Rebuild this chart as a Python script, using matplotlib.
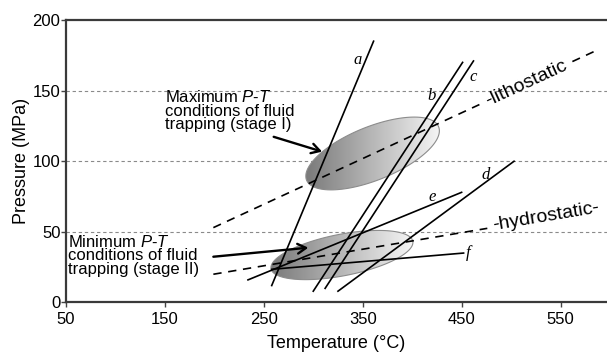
import matplotlib
matplotlib.use("Agg")
import matplotlib.pyplot as plt
import numpy as np
from matplotlib.patches import Polygon
from matplotlib.colors import LinearSegmentedColormap

plt.rcParams['font.family'] = ['Liberation Sans', 'DejaVu Sans']
plt.rcParams['mathtext.fontset'] = 'custom'
plt.rcParams['mathtext.rm'] = 'Liberation Sans'
plt.rcParams['mathtext.it'] = 'Liberation Sans:italic'

# isochores a-f : (T start, T end), (P start, P end)
iso_names = ['a', 'b', 'c', 'd', 'e', 'f']
iso_T = [(258, 361), (300, 451), (312, 462), (325, 503), (234, 450), (258, 452)]
iso_P = [(12, 185), (8, 170), (10, 171), (8, 100), (16, 78), (23.5, 35)]
iso_lab_T = [345, 420, 462, 474, 420, 457]
iso_lab_P = [172, 146, 160, 90, 75, 35]

# geotherms
litho_T = [199, 588]
litho_P = [53, 179]
hydro_T = [199, 476]
hydro_P = [20, 52.5]

# trapping fields (centre T, centre P, half-length, half-width in degC, angle)
ell_T = [360, 329]
ell_P = [105.5, 33.6]
ell_a = [72, 73]
ell_b = [27, 21]
ell_ang = [22, 11]

fig = plt.figure(figsize=(6.07, 3.56), dpi=100)
ax = fig.add_axes([0.1087, 0.1503, 0.8913, 0.7935])
xmin, xmax, ymin, ymax = 50, 597, 0, 200
ax.set_xlim(xmin, xmax)
ax.set_ylim(ymin, ymax)

# pixel aspect between P and T units
k = (0.7935 * 356 / (ymax - ymin)) / (0.8913 * 607 / (xmax - xmin))

for y in [50, 100, 150]:
    ax.axhline(y, color='#8a8a8a', lw=0.8, ls=(0, (3, 2.5)), zorder=1)

cmap = LinearSegmentedColormap.from_list('g', ['#7a7a7a', '#f5f5f5'])
t = np.linspace(0, 2 * np.pi, 200)
for Tc, Pc, a, b, ang in zip(ell_T, ell_P, ell_a, ell_b, ell_ang):
    th = np.radians(ang)
    dx = a * np.cos(t) * np.cos(th) - b * np.sin(t) * np.sin(th)
    dy = a * np.cos(t) * np.sin(th) + b * np.sin(t) * np.cos(th)
    xs = Tc + dx
    ys = Pc + dy / k
    poly = Polygon(np.column_stack([xs, ys]), closed=True, facecolor='none',
                   edgecolor='#8c8c8c', lw=0.8, zorder=3)
    ax.add_patch(poly)
    grad = np.linspace(0, 1, 256).reshape(1, -1)
    im = ax.imshow(grad, cmap=cmap, aspect='auto', zorder=2,
                   extent=[xs.min(), xs.max(), ys.min(), ys.max()])
    im.set_clip_path(poly)

for n, (T, P), lt, lp in zip(iso_names, zip(iso_T, iso_P), iso_lab_T, iso_lab_P):
    ax.plot(T, P, color='black', lw=1.2, zorder=4)
    ax.text(lt, lp, n, family='Liberation Serif', style='italic', fontsize=12,
            ha='center', va='center', zorder=5)

def disp_angle(T, P):
    p = ax.transData.transform(np.column_stack([T, P]))
    return np.degrees(np.arctan2(p[1, 1] - p[0, 1], p[1, 0] - p[0, 0]))

# lithostatic: dashed line interrupted by label
ls = (litho_P[1] - litho_P[0]) / (litho_T[1] - litho_T[0])
gap0, gap1 = 468, 562
ax.plot([litho_T[0], gap0], [litho_P[0], litho_P[0] + ls * (gap0 - litho_T[0])],
        color='black', lw=1.2, ls=(0, (5, 4)), zorder=4)
ax.plot([gap1, litho_T[1]], [litho_P[0] + ls * (gap1 - litho_T[0]), litho_P[1]],
        color='black', lw=1.2, ls=(0, (5, 4)), zorder=4)
tm = (gap0 + gap1) / 2
ax.text(tm, litho_P[0] + ls * (tm - litho_T[0]), '-lithostatic', fontsize=14,
        rotation=disp_angle(litho_T, litho_P), rotation_mode='anchor',
        ha='center', va='center', zorder=5)

ax.plot(hydro_T, hydro_P, color='black', lw=1.2, ls=(0, (5, 4)), zorder=4)
hs = (hydro_P[1] - hydro_P[0]) / (hydro_T[1] - hydro_T[0])
hm = 535
ax.text(hm, hydro_P[0] + hs * (hm - hydro_T[0]) + 1, '-hydrostatic-', fontsize=14,
        rotation=disp_angle(hydro_T, hydro_P), rotation_mode='anchor',
        ha='center', va='center', zorder=5)

ax.text(150, 151, 'Maximum $P$-$T$\nconditions of fluid\ntrapping (stage I)',
        fontsize=12, ha='left', va='top', linespacing=0.88, zorder=5)
ax.text(52.5, 48.8, 'Minimum $P$-$T$\nconditions of fluid\ntrapping (stage II)',
        fontsize=12, ha='left', va='top', linespacing=0.88, zorder=5,
        bbox=dict(facecolor='white', edgecolor='none', pad=0))

arrow = dict(arrowstyle='->,head_length=0.6,head_width=0.35', lw=1.7, color='black',
             shrinkA=0, shrinkB=0)
ax.annotate('', xy=(309, 106.8), xytext=(260, 117.3), arrowprops=arrow, zorder=5)
ax.annotate('', xy=(295, 38.8), xytext=(199, 32.4), arrowprops=arrow, zorder=5)

ax.set_xticks([50, 150, 250, 350, 450, 550])
ax.set_yticks([0, 50, 100, 150, 200])
ax.tick_params(labelsize=12, length=3.5, width=1, color='#444444', pad=3)
ax.tick_params(axis='y', pad=0.5)
for s in ['left', 'bottom', 'top']:
    ax.spines[s].set_color('#3a3a3a')
    ax.spines[s].set_linewidth(1.6)
ax.spines['right'].set_visible(False)
ax.set_xlabel('Temperature (\u00b0C)', fontsize=13, labelpad=6)
ax.set_ylabel('Pressure (MPa)', fontsize=13, labelpad=2)

fig.savefig('out.png', dpi=100)
